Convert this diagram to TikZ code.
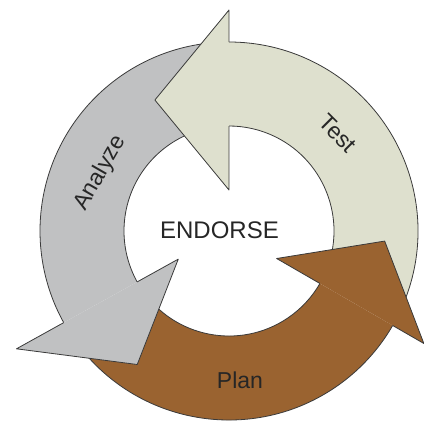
\documentclass[tikz,border=0pt]{standalone}
\usepackage{fontspec}
\setmainfont{Liberation Sans}
\usetikzlibrary{positioning}

\definecolor{testfill}{HTML}{DEE0CE}
\definecolor{analyzefill}{HTML}{C0C1C2}
\definecolor{planfill}{HTML}{9A6330}
\definecolor{edgegray}{HTML}{3A3A3A}
\definecolor{textgray}{HTML}{262626}

\begin{document}
\begin{tikzpicture}[x=1pt,y=1pt,
    outline/.style={draw=edgegray,line width=0.8pt,line join=round},
    word/.style={font=\fontsize{23}{27}\selectfont,text=textgray,inner sep=0pt}]
\useasboundingbox (-229,-190) rectangle (195,231);

% ring parts: start angle / end angle / colour
\foreach \s/\e/\c in {-26/90/testfill, 94/209/analyzefill, 214/330/planfill}{
    \fill[\c] (\s:105) arc[start angle=\s,end angle=\e,radius=105]
        -- (\e:189) arc[start angle=\e,end angle=\s,radius=189] -- cycle;
    \draw[outline] (\s:105) arc[start angle=\s,end angle=\e,radius=105];
    \draw[outline] (\s:189) arc[start angle=\s,end angle=\e,radius=189];
}

% heads: base angle / inner / outer / tip angle / tip radius / colour
\foreach \e/\i/\o/\ta/\tr/\c in {90/41/221/119.5/150.5/testfill,
        209/58/243/235.5/162/analyzefill, 330/55/225/356.3/156/planfill}{
    \fill[\c] (\e:\i) -- (\ta:\tr) -- (\e:\o) -- cycle;
    \draw[outline] (\e:105) -- (\e:\i) -- (\ta:\tr) -- (\e:\o) -- (\e:189);
}

\node[word,font=\fontsize{24}{28}\selectfont] (endorse) at (-9.5,1) {ENDORSE};
\node[word,rotate=-45] (test) at (42:146) {Test};
\node[word,rotate=60] (analyze) at (155.8:141) {Analyze};
\node[word] (plan) at (11,-149) {Plan};
\end{tikzpicture}
\end{document}
